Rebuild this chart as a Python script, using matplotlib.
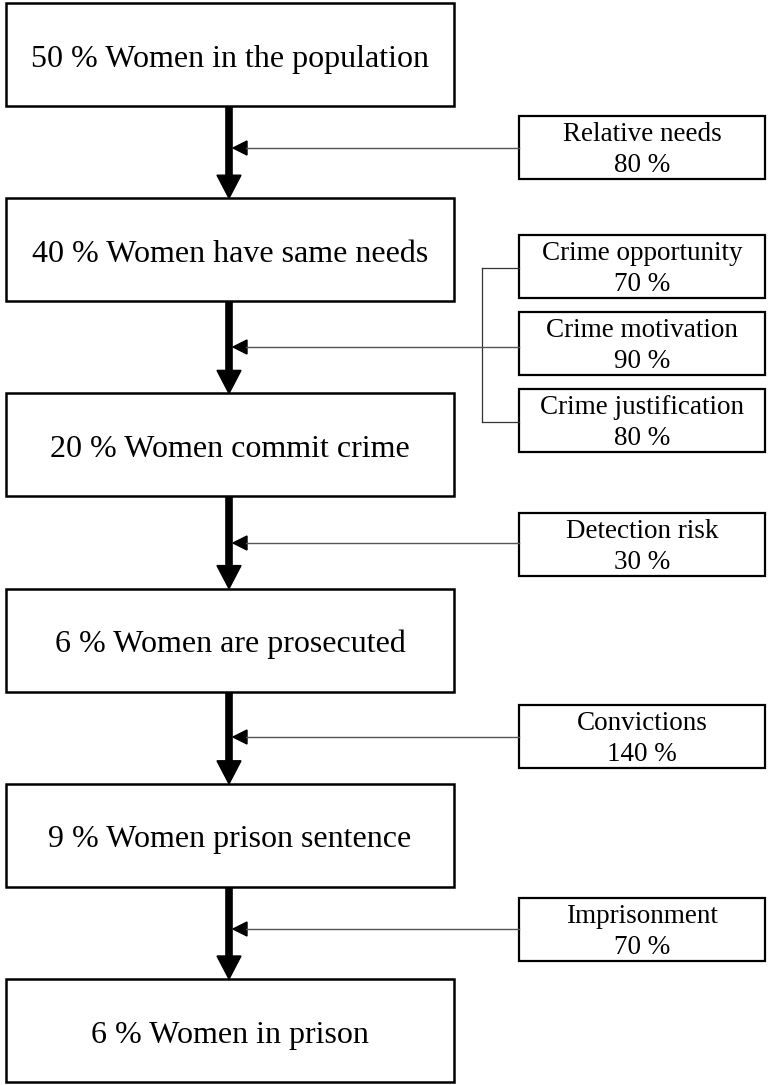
import matplotlib.pyplot as plt
from matplotlib.patches import Rectangle, Polygon

# stages of the funnel
stage_labels = ['50 % Women in the population',
                '40 % Women have same needs',
                '20 % Women commit crime',
                '6 % Women are prosecuted',
                '9 % Women prison sentence',
                '6 % Women in prison']

# factors acting between stages (one group per gap)
factor_names = [['Relative needs'],
                ['Crime opportunity', 'Crime motivation', 'Crime justification'],
                ['Detection risk'],
                ['Convictions'],
                ['Imprisonment']]
factor_pcts = [['80 %'],
               ['70 %', '90 %', '80 %'],
               ['30 %'],
               ['140 %'],
               ['70 %']]

W, H = 768, 1085
fig = plt.figure(figsize=(W / 100, H / 100), dpi=100)
ax = fig.add_axes([0, 0, 1, 1])
ax.set_xlim(0, W)
ax.set_ylim(H, 0)
ax.axis('off')

font = 'Liberation Serif'
box_x, box_w, box_h, step, top0 = 6, 448, 103, 195.2, 3
arrow_x = 229
side_x, side_w, side_h, side_step = 519, 246, 63, 77
group_y = [147, 343, 544, 736, 929]   # centre of each factor group (layout)
line_y = [148, 347, 543, 737, 929]

tops = [top0 + i * step for i in range(len(stage_labels))]
for i, lab in enumerate(stage_labels):
    t = tops[i]
    ax.add_patch(Rectangle((box_x, t), box_w, box_h, fill=False, lw=1.8, ec='black'))
    ax.text(box_x + box_w / 2, t + box_h / 2 + 12, lab, ha='center', va='baseline',
            fontsize=23, family=font)

for g in range(len(factor_names)):
    bottom = tops[g] + box_h
    nxt = tops[g + 1]
    # thick arrow
    ax.plot([arrow_x, arrow_x], [bottom, nxt - 20], color='black', lw=5.5, solid_capstyle='butt')
    ax.add_patch(Polygon([(arrow_x - 12, nxt - 23), (arrow_x + 12, nxt - 23), (arrow_x, nxt)],
                         closed=True, color='black'))
    names = factor_names[g]
    n = len(names)
    ly = line_y[g]
    centers = [group_y[g] + (k - (n - 1) / 2) * side_step for k in range(n)]
    if n > 1:
        bx = 482
        ax.plot([bx, bx], [centers[0] + 2, centers[-1] + 2], color='#333333', lw=0.9)
        for c in (centers[0], centers[-1]):
            ax.plot([bx, side_x], [c + 2, c + 2], color='#333333', lw=0.9)
    # thin line with small arrowhead
    ax.plot([arrow_x + 17, side_x], [ly, ly], color='#555555', lw=1.0)
    ax.add_patch(Polygon([(arrow_x + 4, ly), (arrow_x + 18, ly - 7), (arrow_x + 18, ly + 7)],
                         closed=True, color='black'))
    for k in range(n):
        c = centers[k]
        ax.add_patch(Rectangle((side_x, c - side_h / 2), side_w, side_h, fill=False, lw=1.6, ec='black'))
        ax.text(side_x + side_w / 2, c - 6, names[k], ha='center', va='baseline',
                fontsize=19.5, family=font)
        ax.text(side_x + side_w / 2, c + 25, factor_pcts[g][k], ha='center', va='baseline',
                fontsize=19.5, family=font)

fig.savefig('out.png', dpi=100, facecolor='white')
